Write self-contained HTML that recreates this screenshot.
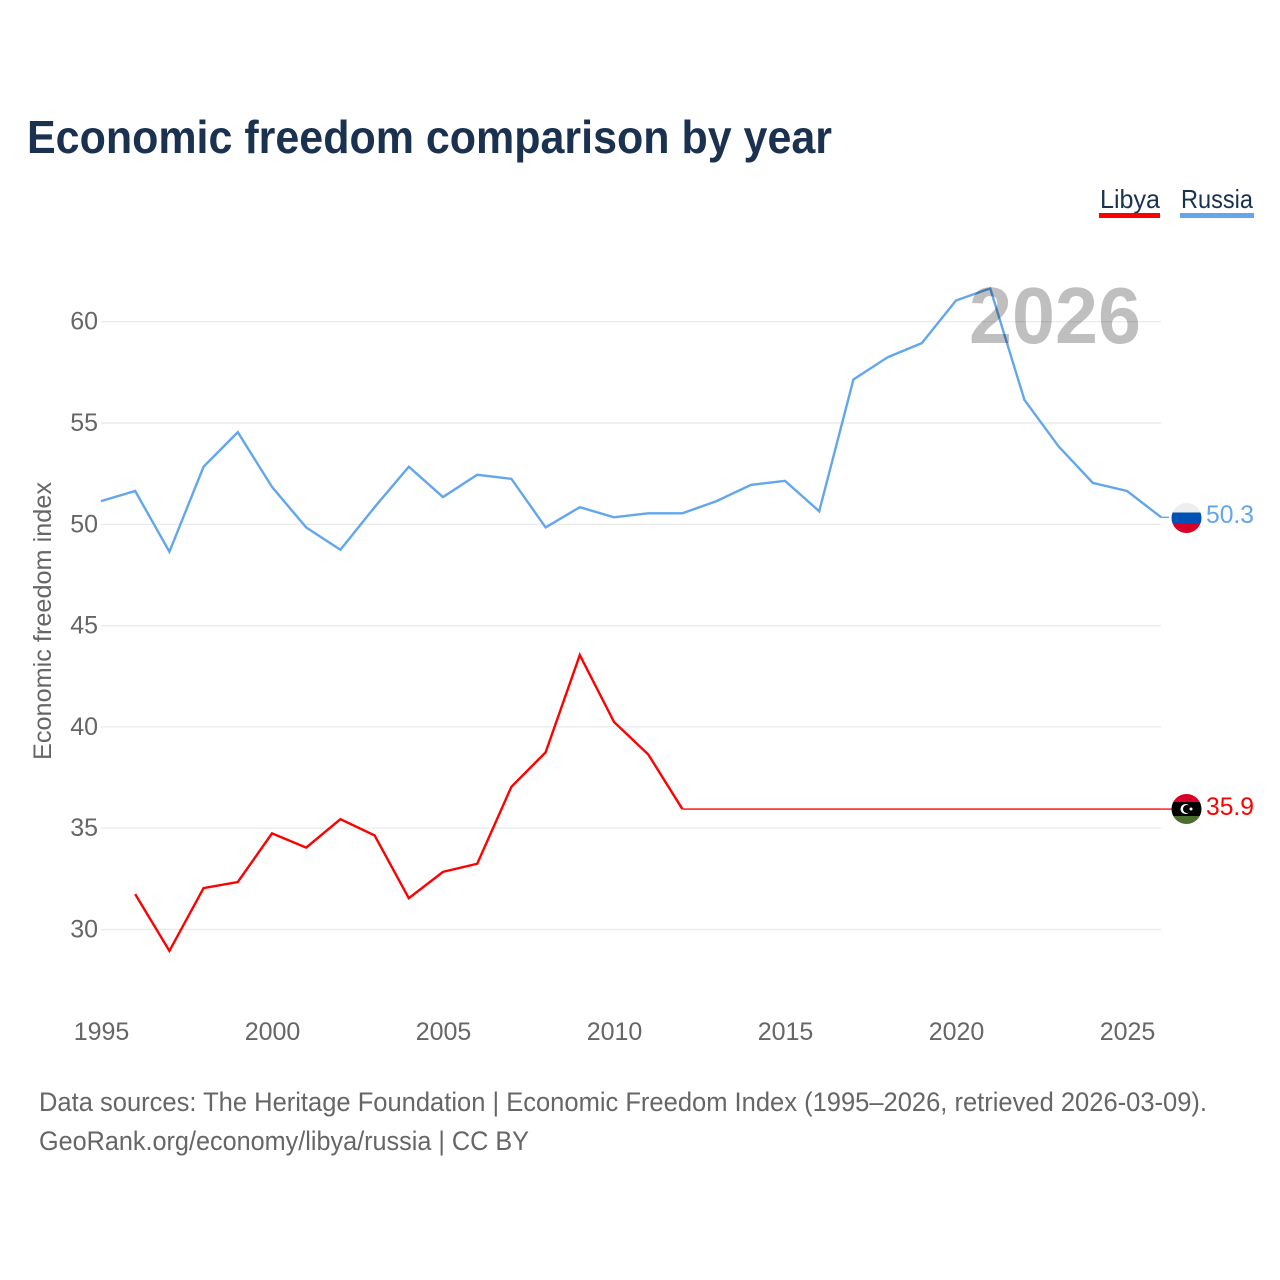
<!DOCTYPE html>
<html lang="en">
<head>
<meta charset="utf-8">
<title>Economic freedom comparison by year</title>
<style>
  html,body{margin:0;padding:0;background:#fff;}
  svg{display:block;font-family:"Liberation Sans",sans-serif;}
</style>
</head>
<body>
<svg id="chart" width="1280" height="1280" viewBox="0 0 1280 1280" xmlns="http://www.w3.org/2000/svg">
  <defs>
    <clipPath id="flag-clip-ru"><circle id="clip-ru" cx="1186.5" cy="518" r="15"/></clipPath>
    <clipPath id="flag-clip-ly"><circle id="clip-ly" cx="1186.5" cy="809" r="15"/></clipPath>
  </defs>
  <rect width="1280" height="1280" fill="#fff"/>
  <text x="27" y="153" font-size="46" font-weight="bold" fill="#1a3150" textLength="805" lengthAdjust="spacingAndGlyphs">Economic freedom comparison by year</text>

  <g>
    <text x="1100" y="208" font-size="26" fill="#1a3150" textLength="60" lengthAdjust="spacingAndGlyphs">Libya</text>
    <rect x="1099" y="213" width="61" height="5" fill="#ff0000"/>
  </g>
  <g>
    <text x="1181" y="208" font-size="26" fill="#1a3150" textLength="72" lengthAdjust="spacingAndGlyphs">Russia</text>
    <rect x="1180" y="213" width="74" height="5" fill="#62a6ec"/>
  </g>

  <g id="grid"></g>
  <g id="y-ticks"></g>
  <g id="x-ticks"></g>
  <g id="lines"></g>

  <text x="969" y="343" font-size="80" font-weight="bold" fill="#000" fill-opacity="0.25" textLength="172" lengthAdjust="spacingAndGlyphs">2026</text>

  <text transform="translate(51,760) rotate(-90)" x="0" y="0" font-size="25" fill="#666" textLength="278" lengthAdjust="spacingAndGlyphs">Economic freedom index</text>

  <g clip-path="url(#flag-clip-ru)">
    <rect x="1171" y="502" width="31" height="10.5" fill="#eeeeee"/>
    <rect x="1171" y="512.5" width="31" height="10.5" fill="#0052b4"/>
    <rect x="1171" y="523" width="31" height="11" fill="#d80027"/>
  </g>
  <g clip-path="url(#flag-clip-ly)">
    <rect x="1171" y="793" width="31" height="10" fill="#d80027"/>
    <rect x="1171" y="802" width="31" height="14" fill="#000"/>
    <rect x="1171" y="816" width="31" height="9" fill="#496e2d"/>
    <circle cx="1185.5" cy="809" r="5" fill="#fff"/>
    <circle cx="1187" cy="809" r="4" fill="#000"/>
    <circle cx="1191" cy="809" r="1.5" fill="#fff"/>
  </g>

  <text id="end-ru" x="1206" y="523" font-size="25" fill="#62a6ec" textLength="48" lengthAdjust="spacingAndGlyphs"></text>
  <text id="end-ly" x="1206" y="815" font-size="25" fill="#ff0000" textLength="48" lengthAdjust="spacingAndGlyphs"></text>

  <text x="39" y="1111" font-size="26.5" fill="#666" textLength="1168" lengthAdjust="spacingAndGlyphs">Data sources: The Heritage Foundation | Economic Freedom Index (1995–2026, retrieved 2026-03-09).</text>
  <text x="39" y="1150" font-size="26.5" fill="#666" textLength="490" lengthAdjust="spacingAndGlyphs">GeoRank.org/economy/libya/russia | CC BY</text>
</svg>
<script>
const years = [1995,1996,1997,1998,1999,2000,2001,2002,2003,2004,2005,2006,2007,2008,2009,2010,2011,2012,2013,2014,2015,2016,2017,2018,2019,2020,2021,2022,2023,2024,2025,2026];
const russiaValues = [51.1,51.6,48.6,52.8,54.5,51.8,49.8,48.7,50.8,52.8,51.3,52.4,52.2,49.8,50.8,50.3,50.5,50.5,51.1,51.9,52.1,50.6,57.1,58.2,58.9,61.0,61.6,56.1,53.8,52.0,51.6,50.3];
const libyaValues = [null,31.7,28.9,32.0,32.3,34.7,34.0,35.4,34.6,31.5,32.8,33.2,37.0,38.7,43.5,40.2,38.6,35.9,35.9,35.9,35.9,35.9,35.9,35.9,35.9,35.9,35.9,35.9,35.9,35.9,35.9,35.9];
const yTickValues = [30,35,40,45,50,55,60];
const xTickValues = [1995,2000,2005,2010,2015,2020,2025];
const russiaEndLabel = "50.3";
const libyaEndLabel = "35.9";

const NS = "http://www.w3.org/2000/svg";
function xScale(year){ return 101 + (year - 1995) * 34.2; }
function yScale(value){ return 321.7 + (60 - value) * 20.26; }
function ySeries(value){ return yScale(value) - 0.9; }

function make(tag, parent, attrs){
  const el = document.createElementNS(NS, tag);
  for (const k in attrs) el.setAttribute(k, attrs[k]);
  parent.appendChild(el);
  return el;
}

const gridGroup = document.getElementById("grid");
const yGroup = document.getElementById("y-ticks");
const xGroup = document.getElementById("x-ticks");
const lineGroup = document.getElementById("lines");

yTickValues.forEach(function(v){
  const line = make("line", gridGroup, {x1:xScale(1995), x2:xScale(2026), y1:yScale(v), y2:yScale(v), stroke:"#e8e8e8", "stroke-width":1.2});
  
  
  const label = make("text", yGroup, {x:98, y:yScale(v)+8, "text-anchor":"end", "font-size":25, fill:"#666"});
  label.textContent = String(v);
  
  
});

xTickValues.forEach(function(yr){
  const label = make("text", xGroup, {x:xScale(yr)+0.5, y:1040, "text-anchor":"middle", "font-size":25, fill:"#666"});
  label.textContent = String(yr);
  
  
});

function point(values, i){
  return xScale(years[i]).toFixed(2) + "," + ySeries(values[i]).toFixed(2);
}

function linePoints(values){
  const pts = [];
  values.forEach(function(v, i){
    if (v !== null) pts.push(point(values, i));
  });
  return pts.join(" ");
}

// The trailing run of unchanged values is drawn as a hairline, as in the source chart.
function flatTailStart(values){
  let i = values.length - 1;
  while (i > 0 && values[i - 1] === values[i]) i--;
  return i;
}

function lastY(values){ return ySeries(values[values.length - 1]); }

const russiaLine = make("polyline", lineGroup, {points:linePoints(russiaValues), fill:"none", stroke:"#62a6ec", "stroke-width":2.4, "stroke-linejoin":"miter"});


const russiaConnector = make("line", lineGroup, {x1:xScale(2026), x2:1169, y1:lastY(russiaValues), y2:lastY(russiaValues), stroke:"#62a6ec", "stroke-width":1.4});



const tail = flatTailStart(libyaValues);
const libyaLine = make("polyline", lineGroup, {points:linePoints(libyaValues.slice(0, tail + 1)), fill:"none", stroke:"#ff0000", "stroke-width":2.4, "stroke-linejoin":"miter"});


const libyaTail = make("polyline", lineGroup, {points:libyaValues.map(function(v, i){ return i >= tail ? point(libyaValues, i) : null; }).filter(Boolean).join(" "), fill:"none", stroke:"#ff0000", "stroke-width":1.3});


const libyaConnector = make("line", lineGroup, {x1:xScale(2026), x2:1172, y1:lastY(libyaValues), y2:lastY(libyaValues), stroke:"#ff0000", "stroke-width":1.3});



document.getElementById("end-ru").textContent = russiaEndLabel;
document.getElementById("end-ly").textContent = libyaEndLabel;
</script>
</body>
</html>
